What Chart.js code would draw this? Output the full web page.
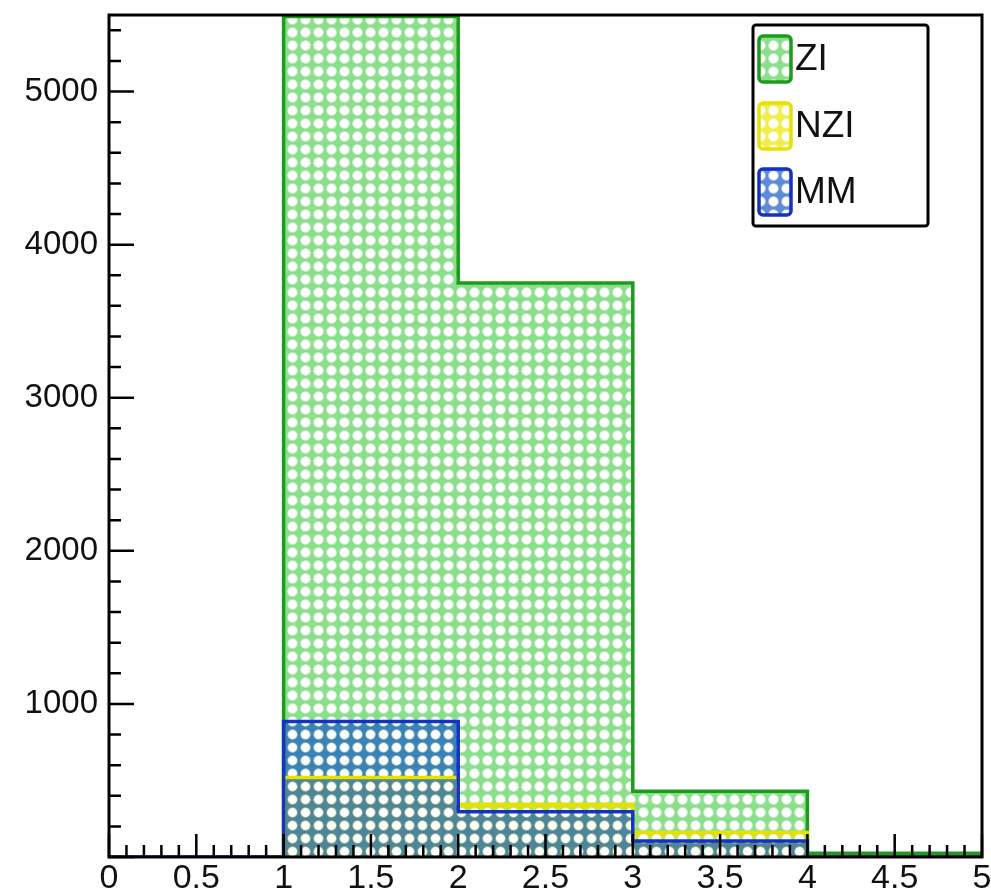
<!DOCTYPE html>
<html>
<head>
<meta charset="utf-8">
<script src="https://cdn.jsdelivr.net/npm/chart.js@4/dist/chart.umd.min.js"></script>
<style>
  html, body { margin: 0; padding: 0; background: #fff; }
  #wrap { width: 991px; height: 893px; }
</style>
</head>
<body>
<div id="wrap"><canvas id="c" width="991" height="893"></canvas></div>
<script>
// ---- data ----
const binEdges   = [0, 1, 2, 3, 4, 5];
const ziCounts   = [0, 5490, 3750, 430, 25];
const nziCounts  = [0, 520, 345, 160, 0];
const mmCounts   = [0, 885, 295, 105, 0];
const seriesNames = ['ZI', 'NZI', 'MM'];
const xTickValues = [0, 0.5, 1, 1.5, 2, 2.5, 3, 3.5, 4, 4.5, 5];
const yTickValues = [1000, 2000, 3000, 4000, 5000];
const xMinorStep = 0.1;
const yMinorStep = 200;

const canvas = document.getElementById('c');
const ctx = canvas.getContext('2d');

function makePattern(color) {
  const s = 13;
  const c = document.createElement('canvas');
  c.width = s; c.height = s;
  const g = c.getContext('2d');
  g.fillStyle = color;
  g.fillRect(0, 0, s, s);
  g.globalCompositeOperation = 'destination-out';
  const grad = g.createRadialGradient(s / 2, s / 2, 0, s / 2, s / 2, 5.8);
  grad.addColorStop(0, 'rgba(0,0,0,1)');
  grad.addColorStop(0.68, 'rgba(0,0,0,1)');
  grad.addColorStop(1, 'rgba(0,0,0,0)');
  g.fillStyle = grad;
  g.beginPath();
  g.arc(s / 2, s / 2, 5.8, 0, Math.PI * 2);
  g.fill();
  return ctx.createPattern(c, 'repeat');
}

function histPoints(edges, counts) {
  return edges.map((x, i) => ({ x: x, y: counts[Math.min(i, counts.length - 1)] }));
}

const styles = [
  { line: '#1c9c1c', fill: makePattern('rgba(80,205,80,0.66)') },
  { line: '#e8e000', fill: makePattern('rgba(235,230,0,0.70)') },
  { line: '#1533c0', fill: makePattern('rgba(30,95,200,0.72)') }
];
const allCounts = [ziCounts, nziCounts, mmCounts];

const datasets = allCounts.map((cnt, i) => ({
  label: seriesNames[i],
  data: histPoints(binEdges, cnt),
  stepped: true,
  borderColor: styles[i].line,
  backgroundColor: styles[i].fill,
  borderWidth: 3.5,
  pointRadius: 0,
  fill: 'origin',
  order: 3 - i
}));

const frameTicks = {
  id: 'frameTicks',
  afterDatasetsDraw(chart) {
    const { ctx, chartArea: a, scales: { x, y } } = chart;
    ctx.save();
    ctx.strokeStyle = '#000';
    ctx.lineWidth = 2.5;
    ctx.beginPath();
    const nx = Math.round((x.max - x.min) / xMinorStep);
    for (let k = 0; k <= nx; k++) {
      const v = x.min + k * xMinorStep;
      const px = x.getPixelForValue(v);
      const len = (k % 5 === 0) ? 23 : 12;
      ctx.moveTo(px, a.bottom);
      ctx.lineTo(px, a.bottom - len);
    }
    const ny = Math.floor((y.max - y.min) / yMinorStep);
    for (let k = 0; k <= ny; k++) {
      const v = y.min + k * yMinorStep;
      const py = y.getPixelForValue(v);
      const len = (k % 5 === 0) ? 25 : 12;
      ctx.moveTo(a.left, py);
      ctx.lineTo(a.left + len, py);
    }
    ctx.stroke();
    ctx.lineWidth = 3;
    ctx.strokeRect(a.left, a.top, a.right - a.left, a.bottom - a.top);
    ctx.restore();
  }
};

const histLegend = {
  id: 'histLegend',
  afterDraw(chart) {
    const { ctx } = chart;
    const bx = 753, by = 25, bw = 175, bh = 201;
    ctx.save();
    ctx.fillStyle = '#fff';
    ctx.strokeStyle = '#000';
    ctx.lineWidth = 3;
    ctx.beginPath();
    ctx.roundRect(bx, by, bw, bh, 3);
    ctx.fill();
    ctx.stroke();
    const rowCenters = [59, 126, 192];
    chart.data.datasets.forEach((ds, i) => {
      const cy = rowCenters[i];
      ctx.beginPath();
      ctx.roundRect(759, cy - 23, 32, 46, 4);
      ctx.fillStyle = ds.backgroundColor;
      ctx.fill();
      ctx.lineWidth = 3.5;
      ctx.strokeStyle = ds.borderColor;
      ctx.stroke();
      ctx.fillStyle = '#111';
      ctx.font = '37px "Liberation Sans", Arial, sans-serif';
      ctx.textBaseline = 'middle';
      ctx.textAlign = 'left';
      ctx.fillText(ds.label, 795, cy + 1);
    });
    ctx.restore();
  }
};

function zeroPad(s) { s.paddingTop = 0; s.paddingBottom = 0; s.paddingLeft = 0; s.paddingRight = 0; }

new Chart(canvas, {
  type: 'line',
  data: { datasets: datasets },
  options: {
    responsive: false,
    animation: false,
    events: [],
    layout: { autoPadding: false, padding: { top: 15, right: 9, left: 0, bottom: 0 } },
    plugins: {
      legend: { display: false },
      tooltip: { enabled: false },
      filler: { drawTime: 'beforeDatasetsDraw' }
    },
    scales: {
      x: {
        type: 'linear',
        min: 0, max: 5,
        grid: { display: false, drawTicks: false },
        border: { display: false },
        afterBuildTicks: s => { s.ticks = xTickValues.map(v => ({ value: v })); },
        afterFit: s => { s.height = 36; zeroPad(s); },
        ticks: {
          autoSkip: false,
          maxRotation: 0,
          padding: 5,
          color: '#111',
          font: { family: '"Liberation Sans", Arial, sans-serif', size: 34, lineHeight: 1 },
          callback: v => String(v)
        }
      },
      y: {
        type: 'linear',
        min: 0, max: 5500,
        grid: { display: false, drawTicks: false },
        border: { display: false },
        afterBuildTicks: s => { s.ticks = yTickValues.map(v => ({ value: v })); },
        afterFit: s => { s.width = 109; zeroPad(s); },
        ticks: {
          autoSkip: false,
          padding: 11,
          color: '#111',
          font: { family: '"Liberation Sans", Arial, sans-serif', size: 33, lineHeight: 1 },
          callback: v => String(v)
        }
      }
    }
  },
  plugins: [frameTicks, histLegend]
});
</script>
</body>
</html>
